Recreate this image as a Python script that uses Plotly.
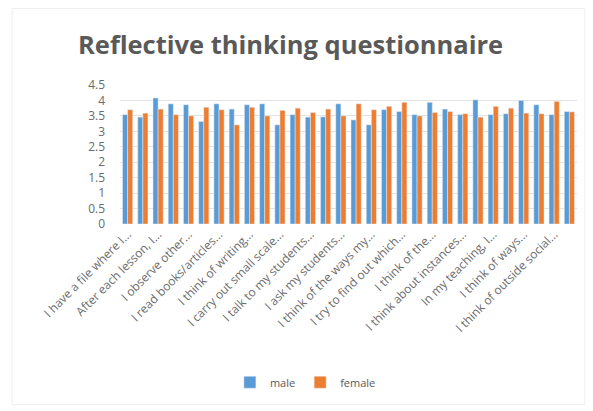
import plotly.graph_objects as go

items = list(range(1, 31))
male = [3.54, 3.46, 4.08, 3.89, 3.86, 3.32, 3.89, 3.72, 3.86, 3.89,
        3.21, 3.54, 3.46, 3.47, 3.89, 3.37, 3.21, 3.70, 3.64, 3.54,
        3.94, 3.72, 3.54, 4.02, 3.54, 3.57, 4.00, 3.86, 3.54, 3.64]
female = [3.70, 3.59, 3.72, 3.54, 3.50, 3.78, 3.70, 3.21, 3.78, 3.50,
          3.68, 3.75, 3.61, 3.72, 3.50, 3.89, 3.70, 3.81, 3.94, 3.50,
          3.61, 3.64, 3.57, 3.46, 3.81, 3.75, 3.59, 3.57, 3.97, 3.63]
tick_items = items[::2]
tick_labels = [
    "I have a file where I...", "After each lesson, I...", "I observe other...",
    "I read books/articles...", "I think of writing...", "I carry out small scale...",
    "I talk to my students...", "I ask my students...", "I think of the ways my...",
    "I try to find out which...", "I think of the...", "I think about instances...",
    "In my teaching, I...", "I think of ways...", "I think of outside social...",
]
y_ticks = [0, 0.5, 1, 1.5, 2, 2.5, 3, 3.5, 4, 4.5]

fig = go.Figure()
fig.add_bar(x=items, y=male, name="male", marker_color="#5B9BD5")
fig.add_bar(x=items, y=female, name="female", marker_color="#ED7D31")

fig.update_layout(
    width=593, height=411,
    margin=dict(l=120, r=16, t=85, b=187),
    paper_bgcolor="white", plot_bgcolor="white",
    barmode="group", bargap=0.33, bargroupgap=0,
    title=dict(text="Reflective thinking questionnaire", x=0.49, xref="container",
               y=0.89, yref="container", xanchor="center", yanchor="middle",
               font=dict(family="Open Sans", size=25.5, color="#595959", weight="bold")),
    font=dict(family="Open Sans", color="#595959"),
    legend=dict(orientation="h", x=0.515, xref="container", xanchor="center",
                y=0.07, yref="container", yanchor="middle",
                font=dict(size=11, color="#595959"), itemwidth=30),
    xaxis=dict(tickmode="array", tickvals=tick_items, ticktext=tick_labels,
               tickangle=-45, tickfont=dict(size=12, color="#6b6b6b"),
               range=[0.5, 30.5], showline=False, ticks=""),
    yaxis=dict(range=[0, 4.5], tickvals=y_ticks, ticktext=[str(v) for v in y_ticks],
               tickfont=dict(size=12, color="#6b6b6b"), showgrid=True,
               gridcolor="#e3e3e3", zeroline=False, ticks="", ticklabelstandoff=14),
    shapes=[dict(type="rect", xref="paper", yref="paper", x0=-0.236, x1=1.017,
                 y0=-1.30, y1=1.55, line=dict(color="#eeeeee", width=1))],
)

fig.write_html("out.html")
